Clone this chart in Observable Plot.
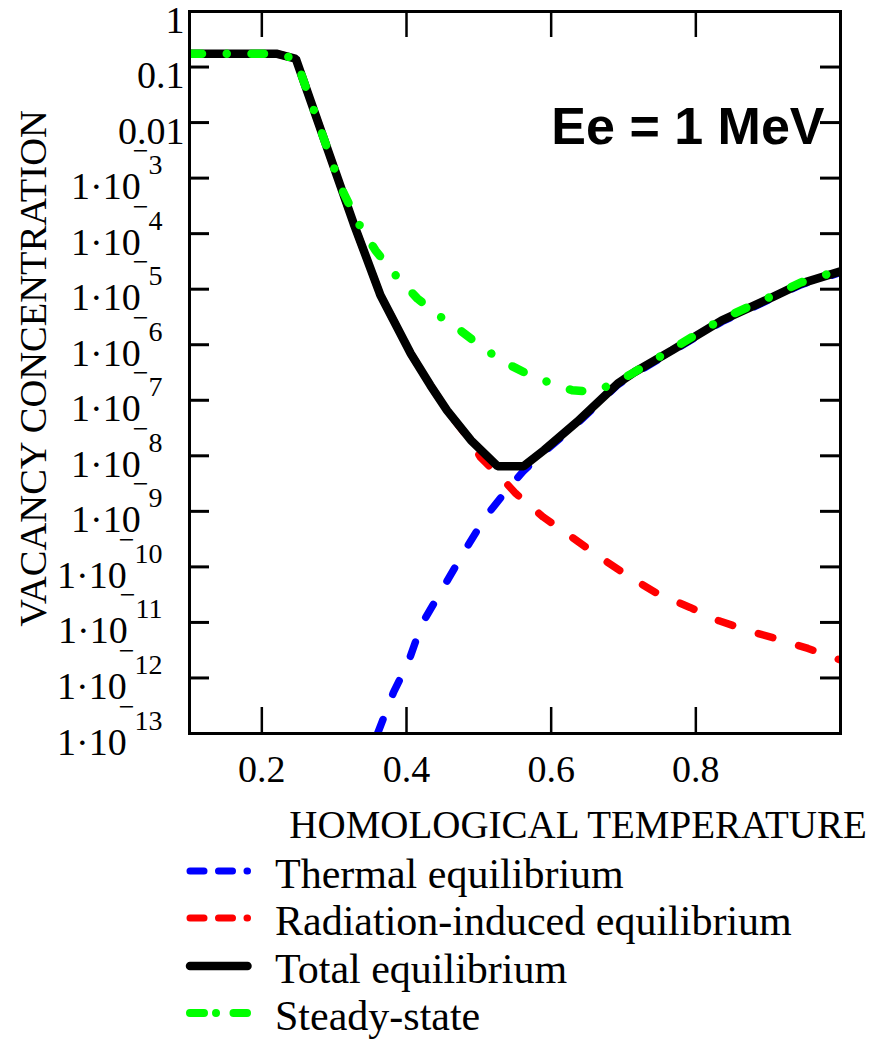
<!DOCTYPE html>
<html><head><meta charset="utf-8">
<script src="https://cdn.jsdelivr.net/npm/d3@7"></script>
<script src="https://cdn.jsdelivr.net/npm/@observablehq/plot@0.6"></script>
<style>
body{margin:0;background:#fff;}
#legend{font-family:"Liberation Serif",serif;font-size:42px;color:#000;}
.row{display:flex;align-items:center;height:47.5px;}
.row svg{margin-left:183px;width:72px;height:20px;flex:none;position:relative;top:-3px}
.row span{margin-left:20px;line-height:1;white-space:nowrap}
</style></head><body>
<div id="chart"></div><div id="legend"></div>
<script>
// ---- data ----
const thermalX = [0.36, 0.382, 0.403, 0.421, 0.451, 0.481, 0.509, 0.535, 0.561, 0.590, 0.636, 0.692, 0.715, 0.767, 0.836, 0.906, 0.945, 1.0];
const thermalY = [1.0e-13, 5.5e-13, 2.0e-12, 9.3e-12, 4.3e-11, 2.0e-10, 7.9e-10, 2.1e-9, 5.2e-9, 1.17e-8, 3.8e-8, 1.9e-7, 3.0e-7, 7.6e-7, 2.6e-6, 6.9e-6, 1.2e-5, 2.0e-5];

const radX = [0.10, 0.22, 0.247, 0.306, 0.327, 0.364, 0.406, 0.433, 0.456, 0.489, 0.502, 0.532, 0.551, 0.589, 0.629, 0.668, 0.708, 0.747, 0.792, 0.832, 0.871, 0.911, 0.955, 1.0];
const radY = [1.74e-1, 1.74e-1, 1.41e-1, 9.1e-4, 1.51e-4, 7.8e-6, 6.9e-7, 1.86e-7, 6.6e-8, 1.82e-8, 9.5e-9, 3.9e-9, 2.1e-9, 7.9e-10, 3.4e-10, 1.48e-10, 6.6e-11, 3.3e-11, 1.86e-11, 1.07e-11, 7.2e-12, 5.1e-12, 3.4e-12, 2.1e-12];

const totalX = [0.10, 0.22, 0.247, 0.306, 0.327, 0.364, 0.406, 0.433, 0.456, 0.489, 0.526, 0.562, 0.590, 0.636, 0.692, 0.715, 0.767, 0.836, 0.906, 0.945, 1.0];
const totalY = [1.74e-1, 1.74e-1, 1.41e-1, 9.1e-4, 1.51e-4, 7.8e-6, 6.9e-7, 1.86e-7, 6.6e-8, 1.91e-8, 6.5e-9, 6.5e-9, 1.26e-8, 4.1e-8, 2.0e-7, 3.2e-7, 7.9e-7, 2.75e-6, 7.2e-6, 1.26e-5, 2.1e-5];

const steadyX = [0.10, 0.22, 0.247, 0.306, 0.313, 0.334, 0.357, 0.385, 0.415, 0.444, 0.476, 0.507, 0.537, 0.569, 0.597, 0.629, 0.659, 0.686, 0.715, 0.767, 0.836, 0.906, 0.945, 1.0];
const steadyY = [1.74e-1, 1.74e-1, 1.41e-1, 9.1e-4, 5.4e-4, 1.51e-4, 5.0e-5, 1.78e-5, 6.8e-6, 3.4e-6, 1.74e-6, 8.5e-7, 4.7e-7, 2.9e-7, 2.1e-7, 1.51e-7, 1.41e-7, 2.0e-7, 3.2e-7, 8.3e-7, 2.9e-6, 7.6e-6, 1.32e-5, 2.2e-5];

const xTicks = [0.2, 0.4, 0.6, 0.8];
const xTickLabels = ["0.2", "0.4", "0.6", "0.8"];
const yTicks = [1, 1e-1, 1e-2, 1e-3, 1e-4, 1e-5, 1e-6, 1e-7, 1e-8, 1e-9, 1e-10, 1e-11, 1e-12, 1e-13];
const yTickLabels = ["1", "0.1", "0.01", "1·10−3", "1·10−4", "1·10−5", "1·10−6", "1·10−7", "1·10−8", "1·10−9", "1·10−10", "1·10−11", "1·10−12", "1·10−13"];

const xTitle = "HOMOLOGICAL TEMPERATURE";
const yTitle = "VACANCY CONCENTRATION";
const annotation = "Ee = 1 MeV";

const legendLabels = ["Thermal equilibrium", "Radiation-induced equilibrium", "Total equilibrium", "Steady-state"];
const legendColors = ["#0000ff", "#ff0000", "#000000", "#00ff00"];
const legendWidths = [7, 7, 8.5, 8];
const legendDash = ["14,14.5", "14,14.5", null, "14,12,0.01,17.5"];

// ---- chart ----
const W = 885, H = 850, mL = 189, mR = 45, mT = 11, mB = 117;
const plotW = W - mL - mR, plotH = H - mT - mB;
const yLabelMap = new Map(yTicks.map((t, i) => [t, yTickLabels[i]]));
const xLabelMap = new Map(xTicks.map((t, i) => [t, xTickLabels[i]]));

const chart = Plot.plot({
  width: W, height: H,
  marginLeft: mL, marginRight: mR, marginTop: mT, marginBottom: mB,
  style: {fontFamily: '"Liberation Serif", serif', background: "white", color: "black"},
  x: {domain: [0.1, 1.0]},
  y: {type: "log", domain: [1e-13, 1]},
  marks: [
    Plot.line(thermalY, {x: thermalX, y: thermalY, stroke: legendColors[0], strokeWidth: 7.5, strokeDasharray: "15,27", strokeLinecap: "round", strokeLinejoin: "round", clip: true}),
    Plot.line(radY, {x: radX, y: radY, stroke: legendColors[1], strokeWidth: 7.5, strokeDasharray: "15,27", strokeLinecap: "round", strokeLinejoin: "round", clip: true}),
    Plot.line(totalY, {x: totalX, y: totalY, stroke: legendColors[2], strokeWidth: 8.5, strokeLinejoin: "miter", clip: true}),
    Plot.line(steadyY, {x: steadyX, y: steadyY, stroke: legendColors[3], strokeWidth: 8.5, strokeDasharray: "12.5,24.75,0.01,24.75", strokeLinecap: "round", strokeLinejoin: "round", clip: true}),
    Plot.frame({strokeWidth: 3}),
    Plot.tickY(yTicks, {y: d => d, insetRight: plotW - 20, strokeWidth: 3}),
    Plot.tickY(yTicks, {y: d => d, insetLeft: plotW - 20, strokeWidth: 3}),
    Plot.tickX(xTicks, {x: d => d, insetBottom: plotH - 26, strokeWidth: 2.5}),
    Plot.tickX(xTicks, {x: d => d, insetTop: plotH - 26, strokeWidth: 2.5}),
    Plot.axisX({ticks: xTicks, tickSize: 0, tickPadding: 22, fontSize: 38, label: null, tickFormat: d => xLabelMap.get(d)}),
    Plot.axisY({ticks: yTicks, tickSize: 0, tickPadding: 5, fontSize: 38, label: null, tickFormat: d => yLabelMap.get(d)}),
    Plot.text([xTitle], {text: d => d, frameAnchor: "bottom", lineAnchor: "bottom", dx: 63, dy: 104, fontSize: 39}),
    Plot.text([yTitle], {text: d => d, frameAnchor: "left", textAnchor: "middle", rotate: -90, dx: -156, dy: -4, fontSize: 38.5}),
    Plot.text([annotation], {text: d => d, frameAnchor: "top-right", textAnchor: "end", lineAnchor: "bottom", dx: -16, dy: 132, fontSize: 52, fontWeight: "bold", fontFamily: '"Liberation Sans", Arial, sans-serif'})
  ]
});

// superscript exponents on the y tick labels
const NS = "http://www.w3.org/2000/svg";
chart.querySelectorAll('g[aria-label="y-axis tick label"] text').forEach(t => {
  const s = t.textContent;
  t.setAttribute("y", "21");
  const m = s.match(/^(1·10)(−)(\d+)$/);
  if (m) {
    t.textContent = "";
    const a = document.createElementNS(NS, "tspan"); a.textContent = m[1];
    const b = document.createElementNS(NS, "tspan"); b.textContent = m[2];
    b.setAttribute("font-size", "28"); b.setAttribute("dx", "-8"); b.setAttribute("dy", "-39");
    const c = document.createElementNS(NS, "tspan"); c.textContent = m[3];
    c.setAttribute("font-size", "28"); c.setAttribute("dy", "14");
    t.append(a, b, c);
    t.setAttribute("x", "-22");
  }
});
document.getElementById("chart").append(chart);

// legend
const legend = document.getElementById("legend");
legendLabels.forEach((lab, i) => {
  const row = document.createElement("div"); row.className = "row";
  const sw = document.createElementNS(NS, "svg");
  sw.setAttribute("viewBox", "183 0 72 20");
  const ln = document.createElementNS(NS, "line");
  ln.setAttribute("x1", 190); ln.setAttribute("x2", i === 3 ? 247 : 247.5);
  ln.setAttribute("y1", 10); ln.setAttribute("y2", 10);
  ln.setAttribute("stroke", legendColors[i]);
  ln.setAttribute("stroke-width", legendWidths[i]);
  ln.setAttribute("stroke-linecap", "round");
  if (legendDash[i]) ln.setAttribute("stroke-dasharray", legendDash[i]);
  sw.append(ln);
  const sp = document.createElement("span"); sp.textContent = lab;
  row.append(sw, sp);
  legend.append(row);
});
</script>
</body></html>
